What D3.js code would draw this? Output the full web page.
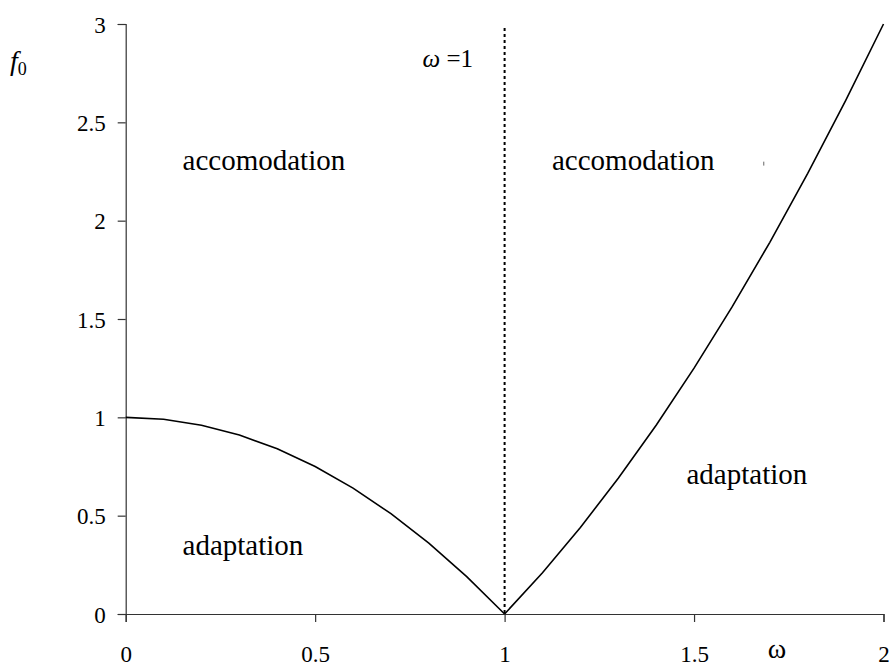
<!DOCTYPE html>
<html>
<head>
<meta charset="utf-8">
<script src="https://cdn.jsdelivr.net/npm/d3@7"></script>
<style>
    body { margin: 0; background: #fff; }
</style>
</head>
<body>
<div id="chart"></div>
<script>
// values
const omegaLeft = [0, 0.1, 0.2, 0.3, 0.4, 0.5, 0.6, 0.7, 0.8, 0.9, 1.0];
const f0Left = [1.0, 0.99, 0.96, 0.91, 0.84, 0.75, 0.64, 0.51, 0.36, 0.19, 0.0];
const omegaRight = [1.0, 1.1, 1.2, 1.3, 1.4, 1.5, 1.6, 1.7, 1.8, 1.9, 2.0];
const f0Right = [0.0, 0.21, 0.44, 0.69, 0.96, 1.25, 1.56, 1.89, 2.24, 2.61, 3.0];
const xTicks = [0, 0.5, 1, 1.5, 2];
const yTicks = [0, 0.5, 1, 1.5, 2, 2.5, 3];
const regionLabels = [
    {text: "accomodation", x: 0.15, y: 2.26},
    {text: "accomodation", x: 1.125, y: 2.26},
    {text: "adaptation", x: 0.15, y: 0.3},
    {text: "adaptation", x: 1.48, y: 0.66}
];

const width = 893, height = 665;
const serif = "'Liberation Serif', 'DejaVu Serif', 'Times New Roman', Times, serif";

let svg = d3.select("#chart").append("svg")
    .attr("width", width)
    .attr("height", height)
    .attr("font-family", serif);

let x = d3.scaleLinear().domain([0, 2]).range([125.7, 883.5]);
let y = d3.scaleLinear().domain([0, 3]).range([614, 24]);

//Axes - excel style, ticks outside
let xAxis = svg.append("g")
    .attr("transform", "translate(0," + y(0) + ")")
    .call(d3.axisBottom(x).tickValues(xTicks).tickSize(8).tickPadding(28)
	  .tickFormat(d3.format("")));
let yAxis = svg.append("g")
    .attr("transform", "translate(" + x(0) + ",0)")
    .call(d3.axisLeft(y).tickValues(yTicks).tickSize(8).tickPadding(12)
	  .tickFormat(d3.format("")));

[xAxis, yAxis].forEach(a => {
    a.attr("font-family", serif).attr("font-size", 23);
    a.select(".domain").attr("stroke", "#333").attr("stroke-width", 1.2);
    a.selectAll(".tick line").attr("stroke", "#333").attr("stroke-width", 1.2);
    a.selectAll(".tick text")
	.attr("font-family", serif)
	.attr("font-size", 23)
	.attr("fill", "#000");
});
yAxis.selectAll(".tick text").attr("dy", "0.35em");
xAxis.selectAll(".tick text").attr("dy", "0.5em");

//omega = 1 dotted line
svg.append("line")
    .attr("x1", x(1)).attr("x2", x(1))
    .attr("y1", y(2.98)).attr("y2", y(0))
    .attr("stroke", "#000")
    .attr("stroke-width", 2)
    .attr("stroke-dasharray", "3,3");

let line = d3.line()
    .x(d => x(d[0]))
    .y(d => y(d[1]));

let branches = [d3.zip(omegaLeft, f0Left), d3.zip(omegaRight, f0Right)];
svg.selectAll(".branch")
    .data(branches)
    .enter().append("path")
    .attr("class", "branch")
    .attr("d", line)
    .attr("fill", "none")
    .attr("stroke", "#000")
    .attr("stroke-width", 1.6);

svg.selectAll(".region")
    .data(regionLabels)
    .enter().append("text")
    .attr("class", "region")
    .attr("x", d => x(d.x))
    .attr("y", d => y(d.y))
    .attr("font-family", serif)
    .attr("font-size", 29)
    .text(d => d.text);

//stray tick mark from the original
svg.append("line")
    .attr("x1", x(1.684)).attr("x2", x(1.684))
    .attr("y1", y(2.3)).attr("y2", y(2.28))
    .attr("stroke", "#666")
    .attr("stroke-width", 1);

//axis titles
let fLabel = svg.append("text")
    .attr("x", 10)
    .attr("y", 70)
    .attr("font-family", serif);
fLabel.append("tspan")
    .attr("font-style", "italic")
    .attr("font-size", 28)
    .text("f");
fLabel.append("tspan")
    .attr("dy", 5)
    .attr("font-size", 18)
    .text("0");

svg.append("text")
    .attr("x", 777)
    .attr("y", 658)
    .attr("text-anchor", "middle")
    .attr("font-family", serif)
    .attr("font-size", 28)
    .text("ω");

let wLabel = svg.append("text")
    .attr("x", 473)
    .attr("y", 67)
    .attr("text-anchor", "end")
    .attr("font-family", serif)
    .attr("font-size", 25);
wLabel.append("tspan").attr("font-style", "italic").text("ω");
wLabel.append("tspan").text(" =");
wLabel.append("tspan").text("1");
</script>
</body>
</html>
